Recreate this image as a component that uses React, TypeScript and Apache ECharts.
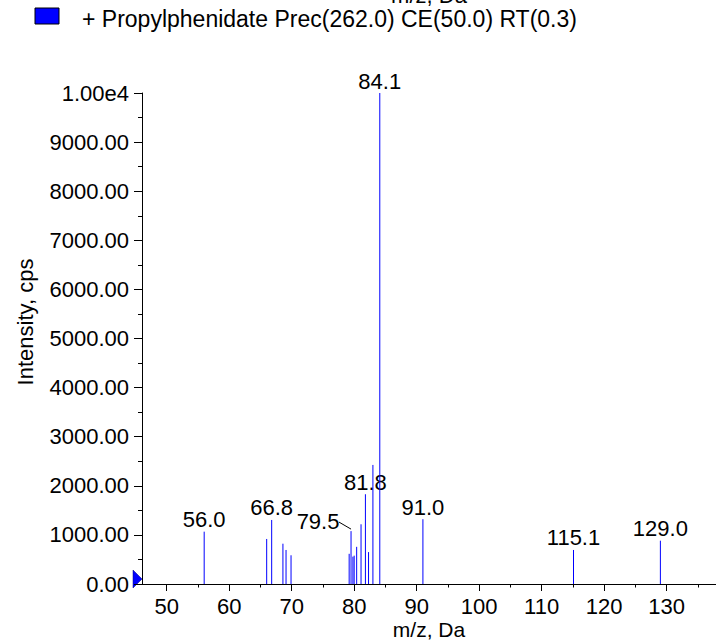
import React, { useEffect, useRef } from "react";
import * as echarts from "echarts";

const TITLE = "+ Propylphenidate Prec(262.0) CE(50.0) RT(0.3)";
const X_NAME = "m/z, Da";
const Y_NAME = "Intensity, cps";

const MZ = [56.0, 66.0, 66.8, 68.6, 69.1, 69.9, 79.2, 79.5, 79.8, 80.0, 80.4, 81.1, 81.8, 82.3, 83.0, 84.1, 91.0, 115.1, 129.0];
const INTENSITY = [1066, 917, 1304, 821, 693, 585, 615, 1077, 557, 577, 757, 1216, 1828, 650, 2425, 10000, 1320, 693, 882];
const LABELED_MZ = [56.0, 66.8, 79.5, 81.8, 84.1, 91.0, 115.1, 129.0];
const LEADER_MZ = 79.5;

const X_TICKS = [50, 60, 70, 80, 90, 100, 110, 120, 130];
const X_MIN = 46.05;
const X_MAX = 137.9;
const Y_MIN = 0;
const Y_MAX = 10000;
const Y_STEP = 1000;

const FONT = "'Liberation Sans', Arial, sans-serif";
const FS = 22;
const BLUE = "#0000ff";

export default function App() {
  const ref = useRef<HTMLDivElement>(null);
  useEffect(() => {
    document.body.style.margin = "0";
    const chart = echarts.init(ref.current!, null, { renderer: "svg" });
    const data = MZ.map((m, i) => [m, INTENSITY[i]]);
    chart.setOption({
      animation: false,
      backgroundColor: "#ffffff",
      grid: { left: 142, right: 0, top: 93, bottom: 57, containLabel: false, outerBoundsMode: "none" },
      xAxis: {
        type: "value",
        min: X_MIN,
        max: X_MAX,
        splitNumber: 9,
        axisLine: { show: true, onZero: false, lineStyle: { color: "#000", width: 1 } },
        axisTick: { show: true, customValues: X_TICKS, length: 7, lineStyle: { color: "#000" } },
        minorTick: { show: true, splitNumber: 2, length: 3.5, lineStyle: { color: "#000" } },
        axisLabel: { customValues: X_TICKS, margin: 11, fontFamily: FONT, fontSize: FS, color: "#000" },
        splitLine: { show: false },
        minorSplitLine: { show: false },
      },
      yAxis: {
        type: "value",
        min: Y_MIN,
        max: Y_MAX,
        interval: Y_STEP,
        axisLine: { show: true, lineStyle: { color: "#000", width: 1 } },
        axisTick: { show: true, length: 8, lineStyle: { color: "#000" } },
        minorTick: { show: true, splitNumber: 2, length: 4, lineStyle: { color: "#000" } },
        axisLabel: {
          margin: 13,
          fontFamily: FONT,
          fontSize: FS,
          color: "#000",
          formatter: (v: number) => (v >= 10000 ? (v / 10000).toFixed(2) + "e4" : v.toFixed(2)),
        },
        splitLine: { show: false },
        minorSplitLine: { show: false },
      },
      series: [
        {
          type: "custom",
          clip: false,
          data,
          renderItem: (params: any, api: any) => {
            const x = api.value(0);
            const y = api.value(1);
            const base = api.coord([x, 0]);
            const top = api.coord([x, y]);
            const children: any[] = [
              {
                type: "line",
                shape: { x1: base[0], y1: base[1], x2: top[0], y2: top[1] },
                style: { stroke: BLUE, lineWidth: 1 },
              },
            ];
            if (LABELED_MZ.indexOf(x) >= 0) {
              const txt = x.toFixed(1);
              if (x === LEADER_MZ) {
                children.push({
                  type: "text",
                  style: { text: txt, x: top[0] - 33, y: top[1] - 10, align: "center", verticalAlign: "middle", fontSize: FS, fontFamily: FONT, fill: "#000" },
                });
                children.push({
                  type: "line",
                  shape: { x1: top[0] - 12, y1: top[1] - 9, x2: top[0], y2: top[1] - 2 },
                  style: { stroke: "#000", lineWidth: 1 },
                });
              } else {
                children.push({
                  type: "text",
                  style: { text: txt, x: top[0], y: top[1] - 12, align: "center", verticalAlign: "middle", fontSize: FS, fontFamily: FONT, fill: "#000" },
                });
              }
            }
            return { type: "group", children };
          },
        },
      ],
      graphic: [
        { type: "rect", shape: { x: 35, y: 8, width: 24, height: 16 }, style: { fill: BLUE, stroke: "#000", lineWidth: 1 } },
        { type: "text", x: 82, y: 19, style: { text: TITLE, fontSize: 23, fontFamily: FONT, fill: "#000", align: "left", verticalAlign: "middle" } },
        { type: "text", x: 429, y: -5, style: { text: X_NAME, fontSize: FS, fontFamily: FONT, fill: "#000", align: "center", verticalAlign: "middle" } },
        { type: "text", x: 429, y: 629, style: { text: X_NAME, fontSize: 21, fontFamily: FONT, fill: "#000", align: "center", verticalAlign: "middle" } },
        { type: "text", x: 25, y: 322, rotation: Math.PI / 2, style: { text: Y_NAME, fontSize: FS, fontFamily: FONT, fill: "#000", align: "center", verticalAlign: "middle" } },
        { type: "polygon", shape: { points: [[133, 570], [133, 588], [142, 579]] }, style: { fill: BLUE, stroke: "#000080", lineWidth: 0.5 } },
      ],
    });
    return () => chart.dispose();
  }, []);
  return <div ref={ref} style={{ position: "fixed", left: 0, top: 0, width: 716, height: 641 }} />;
}
